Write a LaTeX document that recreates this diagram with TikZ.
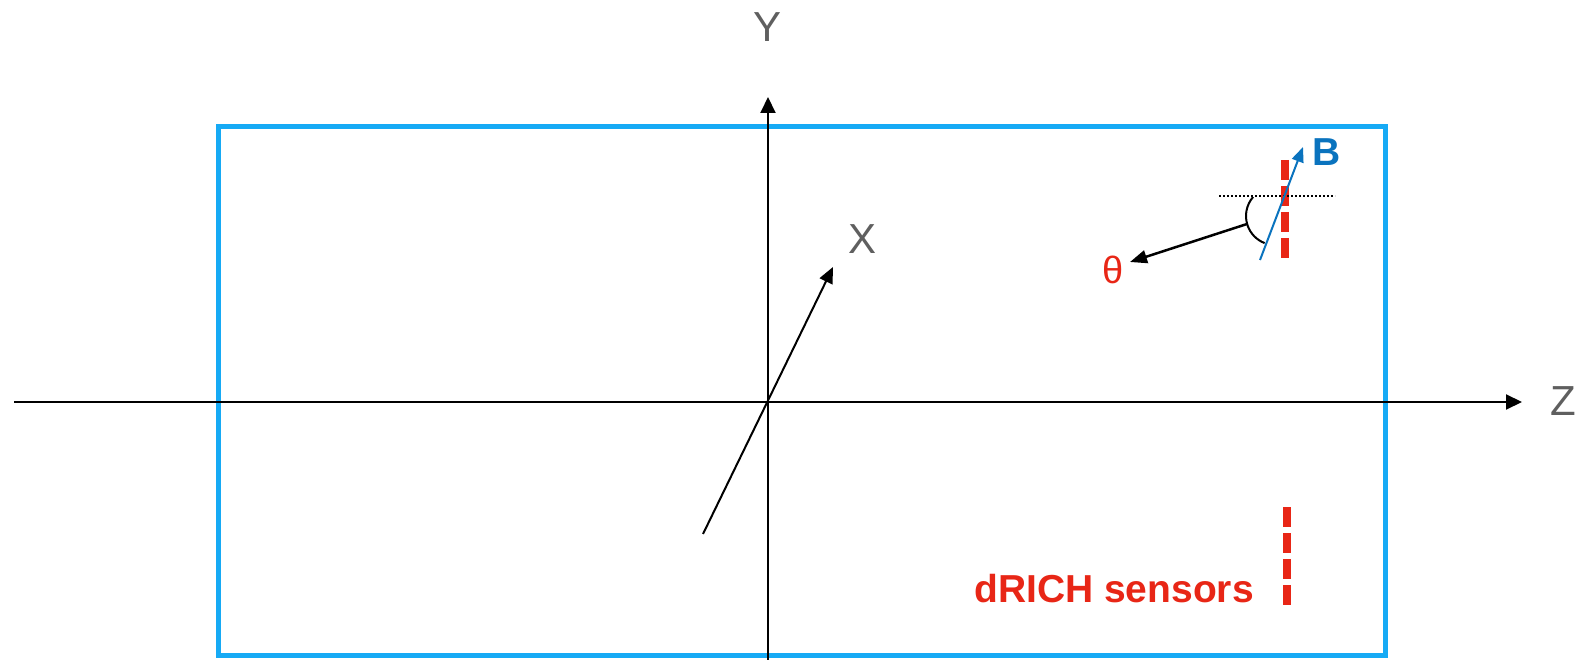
\documentclass[tikz,border=0pt]{standalone}
\usepackage{fontspec}
\setmainfont{Liberation Sans}
\usetikzlibrary{arrows.meta}
\definecolor{boxblue}{RGB}{22,170,245}
\definecolor{bblue}{RGB}{10,115,190}
\definecolor{sred}{RGB}{232,38,22}
\definecolor{lblgray}{RGB}{95,95,95}
\tikzset{
  axis/.style={line width=2pt, -{Triangle[length=16pt,width=15pt]}},
  axlabel/.style={text=lblgray, inner sep=0pt, font=\fontsize{42}{42}\selectfont},
  sensor/.style={sred, line width=8pt, dash pattern=on 20pt off 6pt},
}
\begin{document}
\begin{tikzpicture}[x=1pt,y=-1pt]
\useasboundingbox (0,0) rectangle (1583,660);
% detector box
\draw[boxblue, line width=5pt] (218,127) rectangle (1385,655);
% axes
\coordinate (zs) at (14,402);
\coordinate (ze) at (1522,402);
\coordinate (ys) at (768,662);
\coordinate (ye) at (768,97);
\coordinate (xs) at (703,534);
\coordinate (xe) at (833,267);
\draw[axis] (zs) -- (ze);
\draw[axis] (ys) -- (ye);
\draw[line width=2pt, -{Triangle[length=16pt,width=14pt]}] (xs) -- (xe);
\node[axlabel] (zl) at (1563,401) {Z};
\node[axlabel] (yl) at (767,27) {Y};
\node[axlabel] (xl) at (862,239) {X};
% sensors
\coordinate (s1a) at (1285,160);
\coordinate (s1b) at (1285,258);
\coordinate (s2a) at (1287,507);
\coordinate (s2b) at (1287,606);
\draw[sensor] (s1a) -- (s1b);
\draw[sensor] (s2a) -- (s2b);
% dotted reference line
\coordinate (da) at (1219,196);
\coordinate (db) at (1335,196);
\draw[line width=2pt, dash pattern=on 2pt off 2pt] (da) -- (db);
% B field
\coordinate (bs) at (1260,260);
\coordinate (be) at (1303,147);
\draw[bblue, line width=2pt, -{Triangle[length=15pt,width=12pt]}] (bs) -- (be);
\node[text=bblue, inner sep=0pt, font=\fontsize{39}{39}\selectfont\bfseries] (bl) at (1327,152) {B};
% angle arc
\coordinate (ac) at (1275,216);
\draw[line width=2pt] (ac) ++(221:29) arc[start angle=221, end angle=111, radius=29];
\coordinate (ta) at (1247,224);
\coordinate (te) at (1130,262);
\draw[line width=2.5pt, -{Triangle[length=17pt,width=13pt]}] (ta) -- (te);
\node[text=sred, inner sep=0pt, font=\fontsize{38}{38}\selectfont] (tl) at (1113,270) {θ};
% sensor label
\node[text=sred, inner sep=0pt, anchor=base, font=\fontsize{39}{39}\selectfont\bfseries] (dl) at (1114,602) {dRICH sensors};
\end{tikzpicture}
\end{document}
